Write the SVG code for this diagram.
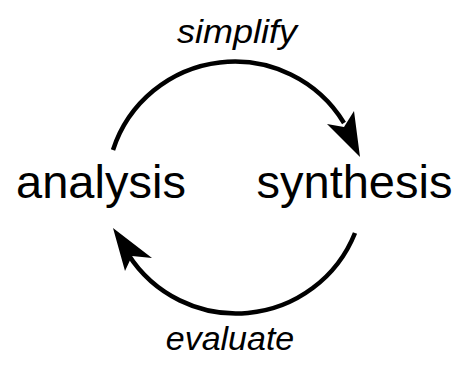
<svg xmlns="http://www.w3.org/2000/svg" width="462" height="365" viewBox="0 0 462 365">
<style>
.node{font-family:"Liberation Sans",Arial,sans-serif;font-size:47px;fill:#000;text-anchor:middle}
.lbl{font-family:"Liberation Sans",Arial,sans-serif;font-size:34px;font-style:italic;fill:#000;text-anchor:middle}
.arc{fill:none;stroke:#000;stroke-width:4.5}
.head{fill:#000;stroke:none}
</style>
<rect width="462" height="365" fill="#fff"/>
<g id="analysis"><text class="node" x="101" y="198">analysis</text></g>
<g id="synthesis"><text class="node" x="354.5" y="198">synthesis</text></g>
<g id="connectors">
<g id="simplify-edge">
<path class="arc" d="M113,150 A128,128 0 0,1 344,123"/>
<path class="head" d="M360,157 L327,124 L344,127 L354,111 Z"/>
<text class="lbl" x="237" y="43" textLength="120" lengthAdjust="spacingAndGlyphs">simplify</text>
</g>
<g id="evaluate-edge">
<path class="arc" d="M355,233 A128,128 0 0,1 128,254"/>
<path class="head" d="M113,228 L152,258 L132,256 L125,271 Z"/>
<text class="lbl" x="230" y="350">evaluate</text>
</g>
</g>
</svg>
